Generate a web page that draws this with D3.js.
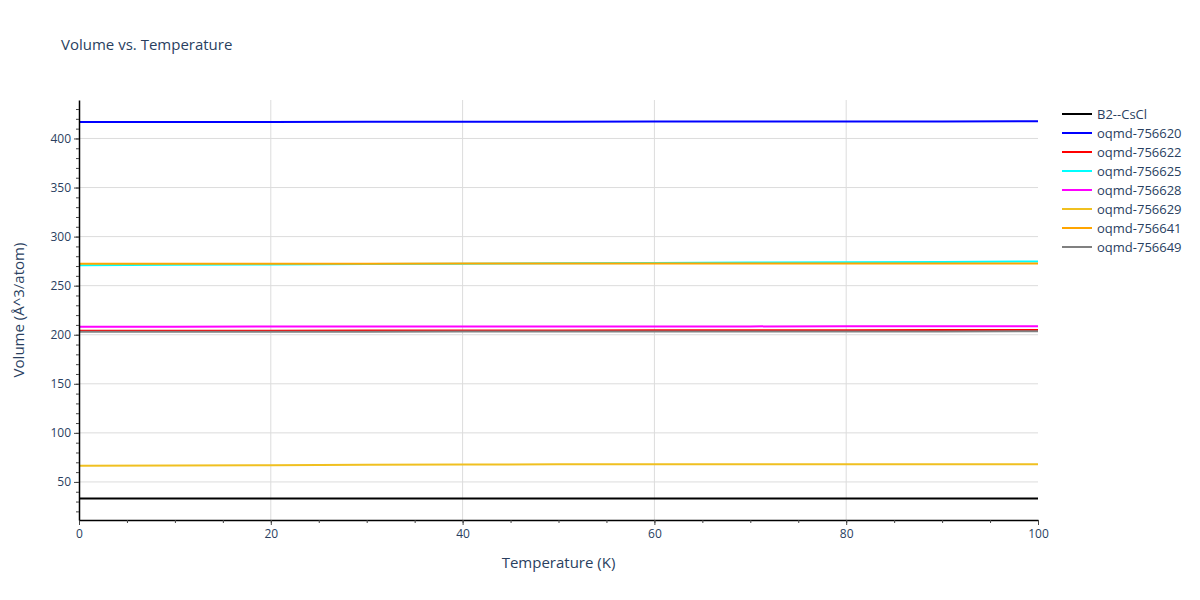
<!DOCTYPE html>
<html>
<head>
<meta charset="utf-8">
<script src="https://cdn.jsdelivr.net/npm/d3@7"></script>
<style>
  body { margin: 0; background: #fff; }
  text { font-family: "Open Sans", "Noto Sans", sans-serif; fill: #2a3f5f; }
</style>
</head>
<body>
<script>
// temperatures (K)
var temps = [0, 10, 20, 30, 40, 50, 60, 70, 80, 90, 100];

// volumes per series
var b2CsCl   = [33, 33, 33, 33, 33, 33, 33, 33, 33, 33, 33];
var oqmd620  = [416.8, 416.9, 416.9, 417.0, 417.0, 417.1, 417.2, 417.3, 417.3, 417.4, 417.5];
var oqmd622  = [204.0, 204.1, 204.1, 204.2, 204.3, 204.4, 204.5, 204.5, 204.6, 204.7, 204.8];
var oqmd625  = [270.8, 271.2, 271.6, 272.0, 272.4, 272.8, 273.2, 273.6, 273.9, 274.2, 274.6];
var oqmd628  = [208.2, 208.2, 208.3, 208.3, 208.4, 208.4, 208.5, 208.5, 208.6, 208.6, 208.7];
var oqmd629  = [66.5, 66.8, 67.1, 67.4, 67.7, 67.9, 68.0, 68.0, 68.0, 68.0, 68.1];
var oqmd641  = [272.3, 272.3, 272.4, 272.4, 272.5, 272.5, 272.5, 272.6, 272.6, 272.6, 272.7];
var oqmd649  = [203.0, 203.0, 203.1, 203.1, 203.2, 203.2, 203.3, 203.3, 203.4, 203.4, 203.5];

var names  = ['B2--CsCl', 'oqmd-756620', 'oqmd-756622', 'oqmd-756625', 'oqmd-756628', 'oqmd-756629', 'oqmd-756641', 'oqmd-756649'];
var colors = ['black', 'blue', 'red', 'cyan', 'magenta', '#f0c020', 'orange', 'gray'];
var values = [b2CsCl, oqmd620, oqmd622, oqmd625, oqmd628, oqmd629, oqmd641, oqmd649];

var xTicks = [0, 20, 40, 60, 80, 100];
var yTicks = [50, 100, 150, 200, 250, 300, 350, 400];

var W = 1200, H = 600;
var pLeft = 79, pRight = 1038, pTop = 100, pBottom = 520;

var svg = d3.select(document.body)
    .append('svg')
    .attr('width', W)
    .attr('height', H);

var x = d3.scaleLinear().domain([0, 100]).range([pLeft, pRight]);
var y = d3.scaleLinear().domain([11.2, 439.2]).range([pBottom, pTop]);

// gridlines
svg.append('g')
    .selectAll('line')
    .data(yTicks)
    .enter()
    .append('line')
    .attr('x1', pLeft).attr('x2', pRight)
    .attr('y1', function(d){ return y(d); })
    .attr('y2', function(d){ return y(d); })
    .attr('stroke', '#dcdcdc').attr('stroke-width', 1);

svg.append('g')
    .selectAll('line')
    .data(xTicks.slice(1, -1))
    .enter()
    .append('line')
    .attr('y1', pTop).attr('y2', pBottom)
    .attr('x1', function(d){ return x(d); })
    .attr('x2', function(d){ return x(d); })
    .attr('stroke', '#dcdcdc').attr('stroke-width', 1);

// series lines
var line = d3.line()
    .x(function(d, i){ return x(temps[i]); })
    .y(function(d){ return y(d); });

svg.append('g')
    .selectAll('path')
    .data(values)
    .enter()
    .append('path')
    .attr('d', function(d){ return line(d); })
    .attr('fill', 'none')
    .attr('stroke', function(d, i){ return colors[i]; })
    .attr('stroke-width', 2);

// axes
svg.append('g')
    .attr('transform', 'translate(0,' + pBottom + ')')
    .call(d3.axisBottom(x).tickValues(xTicks).tickSize(5).tickSizeOuter(0).tickPadding(4));
svg.append('g')
    .attr('transform', 'translate(0,' + pBottom + ')')
    .call(d3.axisBottom(x).tickValues(d3.range(0, 101, 5)).tickSize(3).tickFormat(''))
    .select('.domain').remove();

svg.append('g')
    .attr('transform', 'translate(' + pLeft + ',0)')
    .call(d3.axisLeft(y).tickValues(yTicks).tickSize(5).tickSizeOuter(0).tickPadding(3));
svg.append('g')
    .attr('transform', 'translate(' + pLeft + ',0)')
    .call(d3.axisLeft(y).tickValues(d3.range(20, 431, 10)).tickSize(3).tickFormat(''))
    .select('.domain').remove();

svg.selectAll('.domain').attr('stroke', 'black').attr('stroke-width', 1.5);
svg.selectAll('.tick line').attr('stroke', '#444');
svg.selectAll('.tick text')
    .style('font-family', '"Open Sans", "Noto Sans", sans-serif')
    .style('font-size', '12px')
    .attr('fill', '#2a3f5f');

// titles
svg.append('text')
    .attr('x', 61).attr('y', 50)
    .style('font-size', '15px')
    .text('Volume vs. Temperature');

svg.append('text')
    .attr('x', (pLeft + pRight) / 2).attr('y', 568)
    .attr('text-anchor', 'middle')
    .style('font-size', '15px')
    .text('Temperature (K)');

svg.append('text')
    .attr('transform', 'translate(24,' + ((pTop + pBottom) / 2) + ') rotate(-90)')
    .attr('text-anchor', 'middle')
    .style('font-size', '15px')
    .text('Volume (Å^3/atom)');

// legend
var legend = svg.append('g')
    .selectAll('g')
    .data(names)
    .enter()
    .append('g')
    .attr('transform', function(d, i){ return 'translate(1062,' + (114 + i * 19) + ')'; });

legend.append('line')
    .attr('x1', 0).attr('x2', 30)
    .attr('stroke', function(d, i){ return colors[i]; })
    .attr('stroke-width', 2);

legend.append('text')
    .attr('x', 35).attr('y', 4.5)
    .style('font-size', '13px')
    .text(function(d){ return d; });
</script>
</body>
</html>
